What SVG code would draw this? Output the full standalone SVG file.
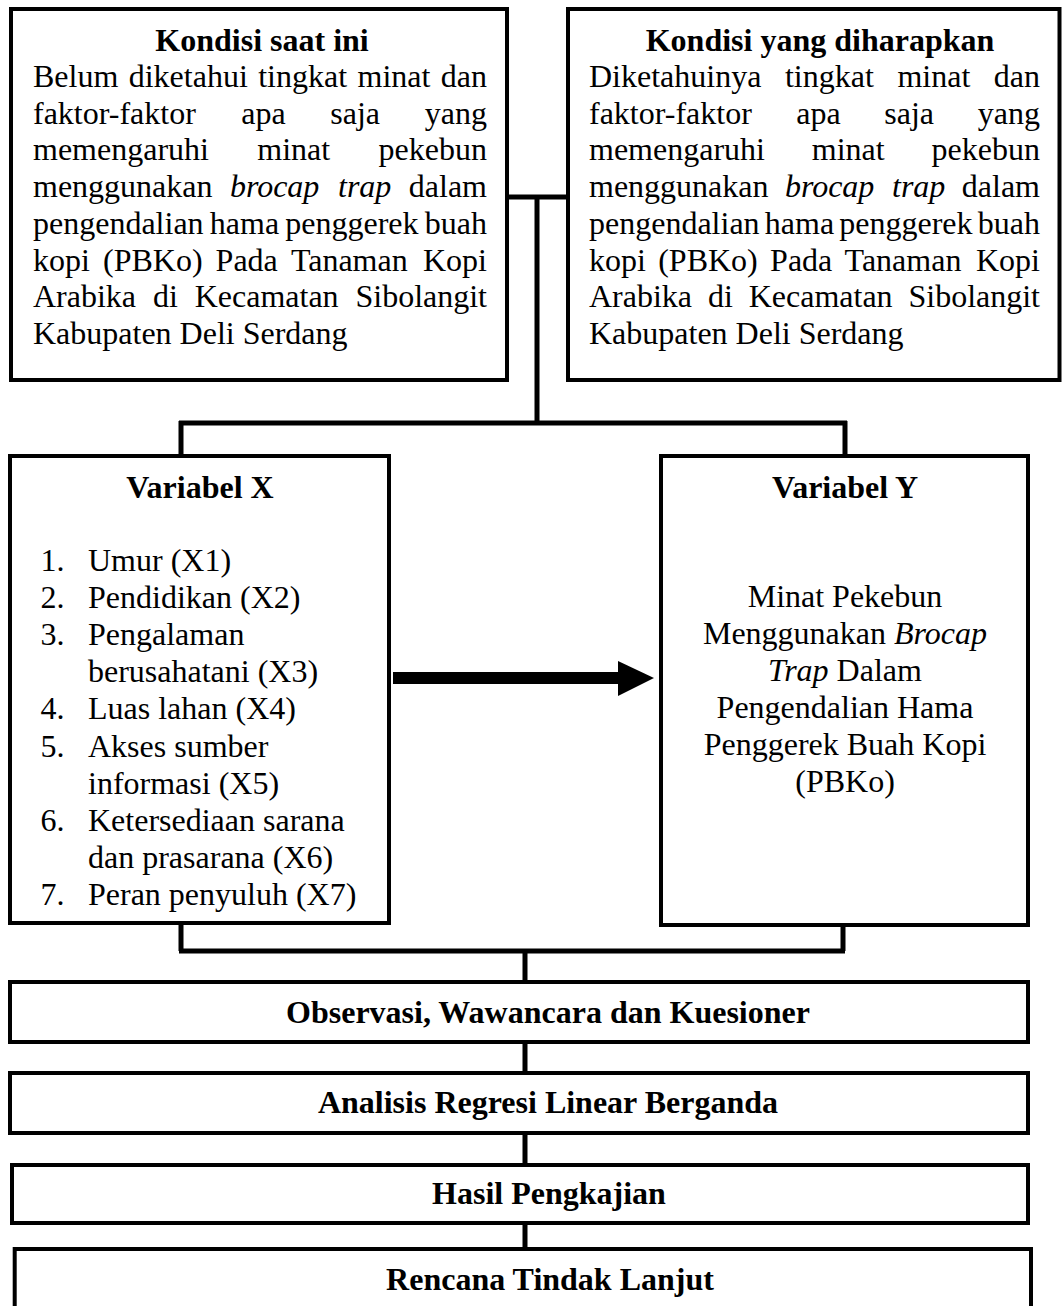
<svg xmlns="http://www.w3.org/2000/svg" width="1062" height="1306" viewBox="0 0 1062 1306">
<style>
.box{fill:#fff;stroke:#000;stroke-width:4}
.con{fill:none;stroke:#000;stroke-width:5}
text{font-family:"Liberation Serif","Times New Roman",serif;font-size:32px;fill:#000}
.b{font-weight:bold}
.c{text-anchor:middle}
.e{text-anchor:end}
.i{font-style:italic}
</style>
<rect width="1062" height="1306" fill="#fff"/>
<g id="connectors">
<path class="con" d="M507,197 H568 M537,197 V423 M179,423 H847 M181,421 V456 M845,421 V456"/>
<path class="con" d="M181,923 V951 M843,925 V951 M179,951 H845 M525,951 V982 M525,1042 V1073 M525,1133 V1165 M525,1223 V1253"/>
<rect x="393" y="672" width="226" height="12" fill="#000"/>
<polygon points="618,661 654,678 618,696" fill="#000"/>
</g>
<g id="kondisi-saat-ini">
<rect class="box" x="11" y="9" width="496" height="371"/>
<text class="b c" x="262" y="50.5">Kondisi saat ini</text>
<text y="87"><tspan x="33">Belum</tspan><tspan x="128.7">diketahui</tspan><tspan x="258.2">tingkat</tspan><tspan x="357.5">minat</tspan></text>
<text class="e" x="487" y="87">dan</text>
<text y="123.7"><tspan x="33">faktor-faktor</tspan><tspan x="241.2">apa</tspan><tspan x="330.3">saja</tspan></text>
<text class="e" x="487" y="123.7">yang</text>
<text y="160.4"><tspan x="33">memengaruhi</tspan><tspan x="257.3">minat</tspan></text>
<text class="e" x="487" y="160.4">pekebun</text>
<text y="197.1"><tspan x="33">menggunakan</tspan><tspan class="i" x="229.9">brocap</tspan><tspan class="i" x="338">trap</tspan></text>
<text class="e" x="487" y="197.1">dalam</text>
<text y="233.8"><tspan x="33">pengendalian</tspan><tspan x="209.8">hama</tspan><tspan x="285.3">penggerek</tspan></text>
<text class="e" x="487" y="233.8">buah</text>
<text y="270.5"><tspan x="33">kopi</tspan><tspan x="103">(PBKo)</tspan><tspan x="215.6">Pada</tspan><tspan x="290.9">Tanaman</tspan></text>
<text class="e" x="487" y="270.5">Kopi</text>
<text y="307.2"><tspan x="33">Arabika</tspan><tspan x="152.9">di</tspan><tspan x="194.7">Kecamatan</tspan></text>
<text class="e" x="487" y="307.2">Sibolangit</text>
<text x="33" y="344">Kabupaten Deli Serdang</text>
</g>
<g id="kondisi-diharapkan">
<rect class="box" x="568" y="9" width="491.5" height="371"/>
<text class="b c" x="820" y="50.5">Kondisi yang diharapkan</text>
<text y="87"><tspan x="589">Diketahuinya</tspan><tspan x="784.9">tingkat</tspan><tspan x="897.4">minat</tspan></text>
<text class="e" x="1040" y="87">dan</text>
<text y="123.7"><tspan x="589">faktor-faktor</tspan><tspan x="796.2">apa</tspan><tspan x="884.3">saja</tspan></text>
<text class="e" x="1040" y="123.7">yang</text>
<text y="160.4"><tspan x="589">memengaruhi</tspan><tspan x="811.8">minat</tspan></text>
<text class="e" x="1040" y="160.4">pekebun</text>
<text y="197.1"><tspan x="589">menggunakan</tspan><tspan class="i" x="784.9">brocap</tspan><tspan class="i" x="892">trap</tspan></text>
<text class="e" x="1040" y="197.1">dalam</text>
<text y="233.8"><tspan x="589">pengendalian</tspan><tspan x="764.8">hama</tspan><tspan x="839.3">penggerek</tspan></text>
<text class="e" x="1040" y="233.8">buah</text>
<text y="270.5"><tspan x="589">kopi</tspan><tspan x="658.2">(PBKo)</tspan><tspan x="770.1">Pada</tspan><tspan x="844.6">Tanaman</tspan></text>
<text class="e" x="1040" y="270.5">Kopi</text>
<text y="307.2"><tspan x="589">Arabika</tspan><tspan x="707.9">di</tspan><tspan x="748.7">Kecamatan</tspan></text>
<text class="e" x="1040" y="307.2">Sibolangit</text>
<text x="589" y="344">Kabupaten Deli Serdang</text>
</g>
<g id="variabel-x">
<rect class="box" x="10" y="456" width="379" height="467"/>
<text class="b c" x="200" y="498">Variabel X</text>
<text x="40.6" y="571">1.</text><text x="88" y="571">Umur (X1)</text>
<text x="40.6" y="608.1">2.</text><text x="88" y="608.1">Pendidikan (X2)</text>
<text x="40.6" y="645.2">3.</text><text x="88" y="645.2">Pengalaman</text>
<text x="88" y="682.3">berusahatani (X3)</text>
<text x="40.6" y="719.4">4.</text><text x="88" y="719.4">Luas lahan (X4)</text>
<text x="40.6" y="756.5">5.</text><text x="88" y="756.5">Akses sumber</text>
<text x="88" y="793.6">informasi (X5)</text>
<text x="40.6" y="830.7">6.</text><text x="88" y="830.7">Ketersediaan sarana</text>
<text x="88" y="867.8">dan prasarana (X6)</text>
<text x="40.6" y="904.9">7.</text><text x="88" y="904.9">Peran penyuluh (X7)</text>
</g>
<g id="variabel-y">
<rect class="box" x="661" y="456" width="367" height="469"/>
<text class="b c" x="845" y="498">Variabel Y</text>
<text class="c" x="845" y="607">Minat Pekebun</text>
<text class="c" x="845" y="644">Menggunakan <tspan class="i">Brocap</tspan></text>
<text class="c" x="845" y="681"><tspan class="i">Trap</tspan> Dalam</text>
<text class="c" x="845" y="718">Pengendalian Hama</text>
<text class="c" x="845" y="755">Penggerek Buah Kopi</text>
<text class="c" x="845" y="792">(PBKo)</text>
</g>
<g id="observasi">
<rect class="box" x="10" y="982" width="1018" height="60"/>
<text class="b c" x="548" y="1023">Observasi, Wawancara dan Kuesioner</text>
</g>
<g id="analisis">
<rect class="box" x="10" y="1073" width="1018" height="60"/>
<text class="b c" x="548" y="1113">Analisis Regresi Linear Berganda</text>
</g>
<g id="hasil">
<rect class="box" x="12" y="1165" width="1016" height="58"/>
<text class="b c" x="549" y="1204">Hasil Pengkajian</text>
</g>
<g id="rencana">
<rect class="box" x="14.7" y="1249" width="1016.3" height="80"/>
<text class="b c" x="550" y="1290">Rencana Tindak Lanjut</text>
</g>
</svg>
